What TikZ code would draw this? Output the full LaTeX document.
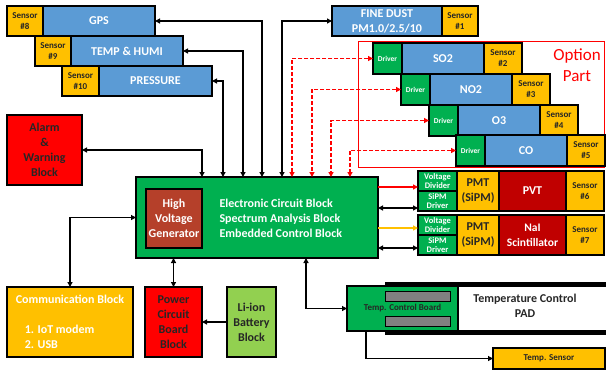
\documentclass[tikz,border=0pt]{standalone}
\usepackage{fontspec}
\setmainfont{Carlito}
\usepackage{tikz}
\usetikzlibrary{positioning,arrows.meta}
\definecolor{gasblue}{HTML}{5B9BD5}
\definecolor{sensyel}{HTML}{FFC000}
\definecolor{drvgreen}{HTML}{00B050}
\definecolor{alarmred}{HTML}{FF0000}
\definecolor{hvbrown}{HTML}{B5402A}
\definecolor{pvtred}{HTML}{C00000}
\definecolor{liongreen}{HTML}{92D050}
\definecolor{inkdark}{HTML}{262626}
\definecolor{padgray}{HTML}{808080}
\tikzset{
  blk/.style={draw=black, line width=1.5pt, outer sep=0pt, inner sep=1pt, align=center,
    font=\bfseries\fontsize{12}{15}\selectfont},
  sensor/.style={blk, fill=sensyel, text=inkdark, font=\bfseries\fontsize{9}{11}\selectfont,
    minimum width=36, minimum height=30},
  gas/.style={blk, fill=gasblue, text=white, minimum height=30},
  driver/.style={blk, fill=drvgreen, text=white, font=\bfseries\fontsize{7.5}{9}\selectfont,
    minimum width=29, minimum height=31},
  halfbox/.style={blk, fill=drvgreen, text=white, inner sep=0.5pt,
    font=\bfseries\fontsize{8.5}{9.5}\selectfont, minimum width=39, minimum height=20},
  link/.style={line width=1.2pt, {Triangle[length=5pt,width=5pt]}-{Triangle[length=5pt,width=5pt]}},
  onelink/.style={line width=1.2pt, -{Triangle[length=5pt,width=5pt]}},
  optlink/.style={link, red, line width=1.5pt, dash pattern=on 4pt off 2pt}
}
\begin{document}
\begin{tikzpicture}[x=1pt, y=-1pt]
\useasboundingbox (0,0) rectangle (606,370);

\node[sensor, anchor=north west] (s8) at (7,6) {Sensor\\\#8};
\node[gas, minimum width=112, right=0pt of s8] (gps) {GPS};
\node[sensor, anchor=north west] (s9) at (35,36) {Sensor\\\#9};
\node[gas, minimum width=112, right=0pt of s9] (humi) {TEMP \& HUMI};
\node[sensor, minimum width=37, anchor=north west] (s10) at (62,66) {Sensor\\\#10};
\node[gas, minimum width=113, right=0pt of s10] (pres) {PRESSURE};

\node[gas, minimum width=110, anchor=north west] (dust) at (332,6) {FINE DUST\\PM1.0/2.5/10};
\node[sensor, right=0pt of dust] (s1) {Sensor\\\#1};

\draw[red, line width=1pt] (358,41) rectangle (604,167);
\node[text=red, align=center, font=\fontsize{17}{21}\selectfont] (opt) at (577,65) {Option\\Part};

\node[driver, anchor=north west] (d2) at (373,43) {Driver};
\node[gas, minimum width=82, minimum height=31, right=0pt of d2] (so2) {SO2};
\node[sensor, minimum width=38, minimum height=31, right=0pt of so2] (s2) {Sensor\\\#2};
\node[driver, anchor=north west] (d3) at (401,74) {Driver};
\node[gas, minimum width=82, minimum height=31, right=0pt of d3] (no2) {NO2};
\node[sensor, minimum width=38, minimum height=31, right=0pt of no2] (s3) {Sensor\\\#3};
\node[driver, anchor=north west] (d4) at (429,105) {Driver};
\node[gas, minimum width=82, minimum height=31, right=0pt of d4] (o3) {O3};
\node[sensor, minimum width=38, minimum height=31, right=0pt of o3] (s4) {Sensor\\\#4};
\node[driver, anchor=north west] (d5) at (456,135) {Driver};
\node[gas, minimum width=82, minimum height=31, right=0pt of d5] (co) {CO};
\node[sensor, minimum width=38, minimum height=31, right=0pt of co] (s5) {Sensor\\\#5};

\node[blk, fill=alarmred, text=inkdark, minimum width=75, minimum height=70, anchor=north west] (alarm) at (7,115) {Alarm\\\&\\Warning\\Block};

\node[blk, fill=drvgreen, minimum width=242, minimum height=81, anchor=north west] (main) at (136,177) {};
\node[blk, fill=hvbrown, text=white, minimum width=56, minimum height=59, anchor=north west] (hv) at (146,189) {High\\Voltage\\Generator};
\node[text=white, align=left, anchor=west, font=\bfseries\fontsize{12}{15}\selectfont] (maintxt) at (216,218) {Electronic Circuit Block\\Spectrum Analysis Block\\Embedded Control Block};

\node[halfbox, anchor=north west] (vd1) at (418,171) {Voltage\\Divider};
\node[halfbox, below=0pt of vd1] (sd1) {SiPM\\Driver};
\node[blk, fill=sensyel, text=inkdark, minimum width=42, minimum height=40, anchor=north west] (pmt1) at (vd1.north east) {PMT\\(SiPM)};
\node[blk, fill=pvtred, text=white, minimum width=67, minimum height=40, right=0pt of pmt1] (pvt) {PVT};
\node[sensor, minimum width=38, minimum height=40, right=0pt of pvt] (s6) {Sensor\\\#6};
\node[halfbox, anchor=north west] (vd2) at (418,215) {Voltage\\Divider};
\node[halfbox, below=0pt of vd2] (sd2) {SiPM\\Driver};
\node[blk, fill=sensyel, text=inkdark, minimum width=42, minimum height=40, anchor=north west] (pmt2) at (vd2.north east) {PMT\\(SiPM)};
\node[blk, fill=pvtred, text=white, minimum width=67, minimum height=40, right=0pt of pmt2,
  font=\bfseries\fontsize{11.5}{15}\selectfont] (nai) {NaI\\Scintillator};
\node[sensor, minimum width=38, minimum height=40, right=0pt of nai] (s7) {Sensor\\\#7};

\node[blk, fill=sensyel, text=white, align=left, minimum width=126, minimum height=70, anchor=north west] (comm) at (7,287)
  {Communication Block\\\mbox{}\\\hspace*{9pt}1. IoT modem\\\hspace*{9pt}2. USB};
\node[blk, fill=alarmred, text=inkdark, minimum width=57, minimum height=70, anchor=north west] (power) at (145,287) {Power\\Circuit\\Board\\Block};
\node[blk, fill=liongreen, text=inkdark, minimum width=49, minimum height=70, anchor=north west] (lion) at (227,287) {Li-ion\\Battery\\Block};

\fill (385,282) rectangle (606,286.5);
\fill (385,330) rectangle (606,335);
\node[text=inkdark, align=center, font=\bfseries\fontsize{12}{15}\selectfont] (pad) at (525,306) {Temperature Control\\PAD};
\node[blk, fill=drvgreen, line width=1.2pt, minimum width=111, minimum height=45, anchor=north west] (board) at (347,286) {};
\filldraw[fill=padgray, draw=black, line width=0.8pt] ([xshift=38pt,yshift=-5pt]board.north west) rectangle ++(65,10);
\filldraw[fill=padgray, draw=black, line width=0.8pt] ([xshift=38pt,yshift=-30pt]board.north west) rectangle ++(65,10);
\node[text=inkdark, font=\bfseries\fontsize{9}{10}\selectfont] (boardtxt) at (board.center) {Temp. Control Board};
\node[blk, fill=sensyel, text=inkdark, font=\bfseries\fontsize{9}{10}\selectfont, minimum width=112, minimum height=21, anchor=north west] (tsens) at (493,348) {Temp. Sensor};

\draw[link] (alarm.east) -| ([xshift=66pt]main.north west);
\draw[link] (pres.east) -| ([xshift=87pt]main.north west);
\draw[link] (humi.east) -| ([xshift=107pt]main.north west);
\draw[link] (gps.east) -| ([xshift=126pt]main.north west);
\draw[link] (dust.west) -| ([xshift=146pt]main.north west);
\draw[optlink] (d2.west) -| ([xshift=156pt]main.north west);
\draw[optlink] (d3.west) -| ([xshift=176pt]main.north west);
\draw[optlink] (d4.west) -| ([xshift=195pt]main.north west);
\draw[optlink] (d5.west) -| ([xshift=214pt]main.north west);

\coordinate (a1) at ([yshift=-6pt]vd1.west);
\coordinate (a2) at ([yshift=-7pt]sd1.west);
\coordinate (a3) at ([yshift=-3pt]vd2.west);
\coordinate (a4) at ([yshift=-3pt]sd2.west);
\draw[onelink, red] (a1 -| main.east) -- (a1);
\draw[link] (a2 -| main.east) -- (a2);
\draw[onelink, sensyel] (a3 -| main.east) -- (a3);
\draw[link] (a4 -| main.east) -- (a4);

\draw[link] (main.west) -| (comm.north);
\draw[link] (power.north |- main.south) -- (power.north);
\draw[onelink] (lion.west) -- (power.east);
\draw[link] ([xshift=170pt]main.south west) |- (board.west);
\draw[onelink] ([xshift=19pt]board.south west) |- (tsens.west);
\end{tikzpicture}
\end{document}
